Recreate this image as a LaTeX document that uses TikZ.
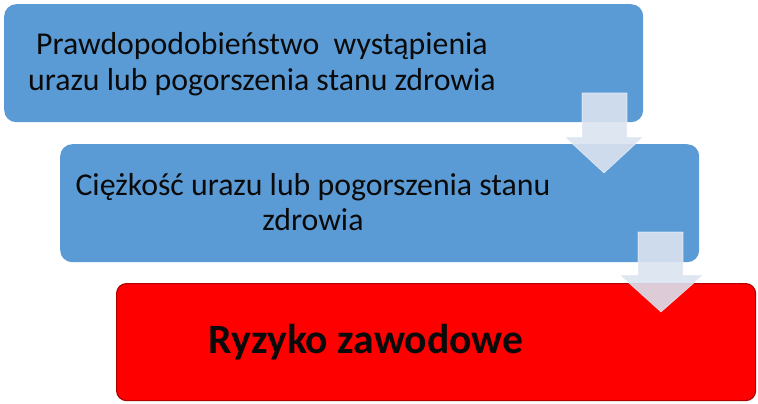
\documentclass[tikz,border=0pt]{standalone}
\usepackage{fontspec}
\setmainfont{Carlito}
\definecolor{boxblue}{HTML}{5B9BD5}
\definecolor{boxred}{HTML}{FF0000}
\definecolor{rededge}{HTML}{B00000}
\definecolor{arrowfill}{HTML}{DAE3F0}
\definecolor{txt}{HTML}{0A0A0A}
\begin{document}
\begin{tikzpicture}[x=1pt,y=-1pt,
  bluebox/.style={fill=boxblue, draw=none, rounded corners=12pt},
  redbox/.style={fill=boxred, draw=rededge, line width=1.2pt, rounded corners=10pt},
  boxtext/.style={anchor=base, inner sep=0pt, text=txt, font=\fontsize{31.8}{35}\selectfont},
  bigtext/.style={anchor=base, inner sep=0pt, text=txt, font=\fontsize{41.7}{48}\selectfont\bfseries},
  downarrow/.style={fill=arrowfill, fill opacity=0.9, draw=white, draw opacity=0.6, line width=0.6pt, line join=miter}
]
\useasboundingbox (0,0) rectangle (758,404);
% boxes
\node[bluebox, minimum width=639pt, minimum height=118pt, inner sep=0pt, anchor=north west] (b1) at (4,4) {};
\node[bluebox, minimum width=639pt, minimum height=118pt, inner sep=0pt, anchor=north west] (b2) at (60,144) {};
\node[redbox, minimum width=639pt, minimum height=117pt, inner sep=0pt, anchor=north west] (b3) at (116,283) {};
% texts
\node[boxtext] (t1a) at (262,55) {Prawdopodobieństwo\ \ wystąpienia};
\node[boxtext] (t1b) at (262,90) {urazu lub pogorszenia stanu zdrowia};
\node[boxtext] (t2a) at (313,195) {Ciężkość urazu lub pogorszenia stanu};
\node[boxtext] (t2b) at (313,230) {zdrowia};
\node[bigtext] (t3) at (366,353) {Ryzyko zawodowe};
% arrows
\draw[downarrow] (582,93) -- (627,93) -- (627,137) -- (643,137) -- (604,173) -- (565,137) -- (582,137) -- cycle;
\draw[downarrow] (638,232) -- (683,232) -- (683,275) -- (703,275) -- (661,312) -- (620,275) -- (638,275) -- cycle;
\end{tikzpicture}
\end{document}
